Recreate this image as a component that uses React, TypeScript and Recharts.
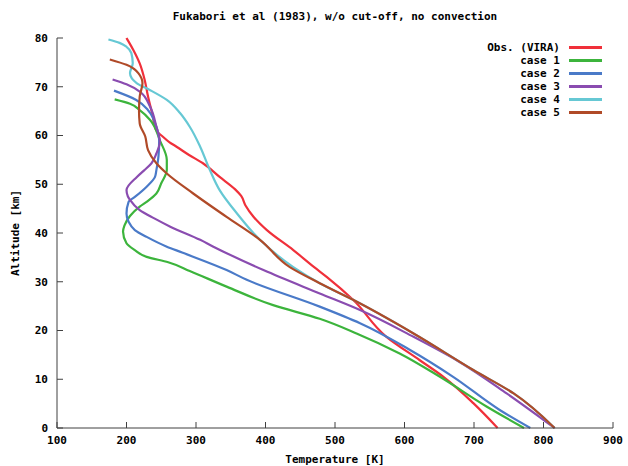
import React from 'react';
import { LineChart, Line, XAxis, YAxis } from 'recharts';

// temperature [K], altitude [km] pairs, top to bottom
const vira: [number, number][] = [
  [200, 80], [210, 77.5], [219, 74.8], [226, 71.5], [231, 68], [237, 64.5], [243, 61],
  [252, 59.8], [262, 58.6], [272, 57.7], [290, 56], [310, 54.3], [334, 51.5], [356, 49],
  [365, 47.6], [371, 45.7], [383, 43.3], [402, 40.6], [440, 36.5], [470, 33], [488, 31],
  [526, 26.3], [574, 18.7], [622, 13.9], [656, 10.5], [699, 5.1], [734, 0],
];
const case1: [number, number][] = [
  [183, 67.4], [205, 66.5], [219, 65.2], [234, 63.2], [248, 59], [258, 55], [258, 52.9],
  [250, 50.2], [243, 48.1], [230, 46.5], [219, 45.4], [205, 43.5], [197, 41.5], [195, 40.3],
  [200, 37.9], [212, 36.5], [229, 35.1], [260, 34], [291, 32.2], [344, 29], [411, 25.2],
  [478, 22.4], [531, 19.4], [593, 15.3], [651, 10.5], [718, 4.4], [772, 0],
];
const case2: [number, number][] = [
  [182, 69.2], [214, 67.3], [231, 65.2], [243, 61.8], [247, 59], [246, 55.7], [243, 52.9],
  [241, 51.5], [229, 49.5], [212, 47.4], [203, 46.4], [200, 44], [203, 42.3], [212, 40.6],
  [229, 39.2], [258, 37.2], [280, 36], [344, 32.4], [373, 30.4], [478, 24.9], [536, 21.5],
  [608, 16], [670, 10.5], [737, 3.7], [781, 0],
];
const case3: [number, number][] = [
  [180, 71.5], [200, 70.5], [219, 69], [234, 65.9], [243, 61.8], [248, 58.7], [243, 56.3],
  [236, 54.3], [225, 52.8], [215, 51.5], [200, 48.8], [202, 47.5], [205, 46.8], [219, 44.7],
  [240, 43], [263, 41.3], [306, 38.6], [325, 37.2], [397, 32.4], [478, 27.6], [536, 24.2],
  [613, 18.7], [675, 13.9], [747, 7.1], [816, 0],
];
const case4: [number, number][] = [
  [174, 79.7], [190, 79], [200, 78.2], [207, 76.9], [209, 74.8], [205, 72.8], [215, 70.7],
  [234, 69.3], [258, 67.3], [277, 64.6], [291, 61.8], [306, 57.7], [320, 52.9], [334, 48.8],
  [359, 44], [392, 38.6], [440, 33], [478, 29.7], [526, 26.3], [613, 19.4], [699, 11.9],
  [757, 7.1], [816, 0],
];
const case5: [number, number][] = [
  [176, 75.6], [200, 74.5], [217, 72.8], [223, 70.7], [219, 68], [218, 65.2], [219, 62.5],
  [227, 59.8], [231, 57], [243, 54.3], [258, 52.2], [296, 48.1], [344, 43.3], [392, 38.6],
  [435, 33], [478, 29.7], [526, 26.3], [613, 19.4], [699, 11.9], [757, 7.1], [816, 0],
];

const xTicks = [100, 200, 300, 400, 500, 600, 700, 800, 900];
const yTicks = [0, 10, 20, 30, 40, 50, 60, 70, 80];

const series = [
  { name: 'Obs. (VIRA)', pts: vira, color: '#f0303a' },
  { name: 'case 1', pts: case1, color: '#3cb43c' },
  { name: 'case 2', pts: case2, color: '#4a7ac8' },
  { name: 'case 3', pts: case3, color: '#8a4cb0' },
  { name: 'case 4', pts: case4, color: '#66c8d4' },
  { name: 'case 5', pts: case5, color: '#b04a28' },
];

const AXIS = '#404040';
const font: React.CSSProperties = {
  fontFamily: '"DejaVu Sans Mono", monospace',
  fontWeight: 'bold',
  fontSize: 11,
  fill: '#000',
};

const BottomTick = ({ x, y, payload }: any) => (
  <g>
    <line x1={x} y1={y} x2={x} y2={y - 6} stroke={AXIS} />
    <text x={x} y={y + 16} textAnchor="middle" style={font}>{payload.value}</text>
  </g>
);
const TopTick = ({ x, y }: any) => <line x1={x} y1={y} x2={x} y2={y + 6} stroke={AXIS} />;
const LeftTick = ({ x, y, payload }: any) => (
  <g>
    <line x1={x} y1={y} x2={x + 6} y2={y} stroke={AXIS} />
    <text x={x - 9} y={y} dy="0.35em" textAnchor="end" style={font}>{payload.value}</text>
  </g>
);
const RightTick = ({ x, y }: any) => <line x1={x} y1={y} x2={x - 6} y2={y} stroke={AXIS} />;

export default function App() {
  return (
    <div style={{ position: 'absolute', left: 0, top: 0, width: 628, height: 466, background: '#fff' }}>
      <div
        style={{
          position: 'absolute', left: 57, width: 556, top: 10, textAlign: 'center',
          fontFamily: font.fontFamily, fontWeight: 'bold', fontSize: 11, lineHeight: '14px',
        }}
      >
        Fukabori et al (1983), w/o cut-off, no convection
      </div>
      <LineChart width={628} height={466} margin={{ top: 38, right: 15, bottom: 0, left: 0 }}>
        <XAxis
          xAxisId="b" dataKey="t" type="number" domain={[100, 900]} ticks={xTicks}
          orientation="bottom" height={38} stroke={AXIS} tickLine={false} tickSize={0} tickMargin={0}
          tick={<BottomTick />} interval={0}
          label={{ value: 'Temperature [K]', position: 'insideBottom', offset: 3, style: font }}
        />
        <XAxis
          xAxisId="t" dataKey="t" type="number" domain={[100, 900]} ticks={xTicks}
          orientation="top" height={0} stroke={AXIS} tickLine={false} tickSize={0} tickMargin={0}
          tick={<TopTick />} interval={0}
        />
        <YAxis
          yAxisId="l" dataKey="z" type="number" domain={[0, 80]} ticks={yTicks}
          orientation="left" width={57} stroke={AXIS} tickLine={false} tickSize={0} tickMargin={0}
          tick={<LeftTick />} interval={0}
          label={{ value: 'Altitude [km]', angle: -90, position: 'insideLeft', offset: 15, style: { ...font, textAnchor: 'middle' } }}
        />
        <YAxis
          yAxisId="r" dataKey="z" type="number" domain={[0, 80]} ticks={yTicks}
          orientation="right" width={0} stroke={AXIS} tickLine={false} tickSize={0} tickMargin={0}
          tick={<RightTick />} interval={0}
        />
        {series.map((s) => (
          <Line
            key={s.name}
            xAxisId="b"
            yAxisId="l"
            data={[...s.pts].reverse().map(([t, z]) => ({ t, z }))}
            dataKey="z"
            type="monotoneY"
            stroke={s.color}
            strokeWidth={2.2}
            dot={false}
            activeDot={false}
            isAnimationActive={false}
          />
        ))}
      </LineChart>
      <div style={{ position: 'absolute', top: 41, left: 420, width: 182 }}>
        {series.map((s) => (
          <div key={s.name} style={{ display: 'flex', alignItems: 'center', justifyContent: 'flex-end', height: 13 }}>
            <span style={{ fontFamily: font.fontFamily, fontWeight: 'bold', fontSize: 11, lineHeight: '13px' }}>{s.name}</span>
            <span style={{ display: 'inline-block', width: 33, height: 2.5, background: s.color, marginLeft: 9 }} />
          </div>
        ))}
      </div>
    </div>
  );
}
